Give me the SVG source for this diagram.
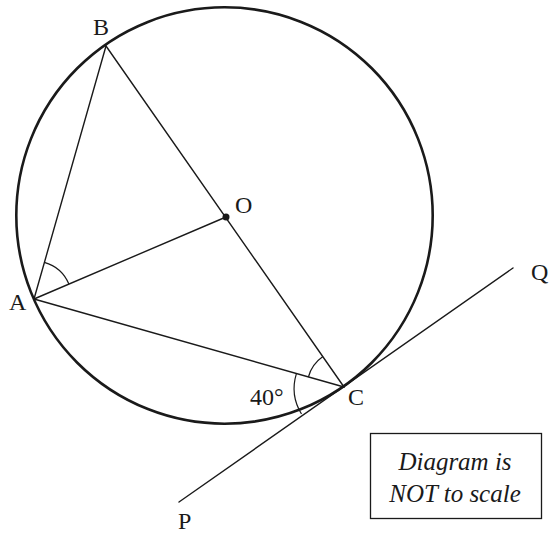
<svg xmlns="http://www.w3.org/2000/svg" width="553" height="535" viewBox="0 0 553 535">
  <style>
    .circ { fill: none; stroke: #1a1a1a; stroke-width: 2.6; }
    .ln { fill: none; stroke: #1a1a1a; stroke-width: 1.4; stroke-linecap: round; }
    .arc { fill: none; stroke: #1a1a1a; stroke-width: 1.2; }
    .lbl { font-family: "Liberation Serif", "Times New Roman", serif; font-size: 24px; fill: #1a1a1a; }
    .note { font-family: "Liberation Serif", "Times New Roman", serif; font-size: 25px; font-style: italic; fill: #1a1a1a; text-anchor: middle; }
  </style>
  <rect width="553" height="535" fill="#ffffff"/>
  <g id="circle">
    <circle class="circ" cx="224.5" cy="215.5" r="208.2"/>
  </g>
  <g id="connectors">
    <line class="ln" x1="34" y1="299" x2="106" y2="46"/>
    <line class="ln" x1="106" y1="46" x2="344" y2="387"/>
    <line class="ln" x1="34" y1="299" x2="226" y2="217"/>
    <line class="ln" x1="34" y1="299" x2="344" y2="387"/>
    <line class="ln" x1="179" y1="502" x2="513" y2="268"/>
    <path class="arc" d="M44.4,262.4 A38,38 0 0 1 68.9,284.1"/>
    <path class="arc" d="M308.4,377 A37,37 0 0 1 322.9,356.6"/>
    <path class="arc" d="M301.5,414 A49.5,49.5 0 0 1 296.4,373.6"/>
  </g>
  <g id="node-A"><text class="lbl" x="9" y="310">A</text></g>
  <g id="node-B"><text class="lbl" x="93" y="35">B</text></g>
  <g id="node-C"><text class="lbl" x="348" y="405">C</text></g>
  <g id="node-O">
    <circle cx="226" cy="217" r="3.5" fill="#1a1a1a"/>
    <text class="lbl" x="235" y="213">O</text>
  </g>
  <g id="node-P"><text class="lbl" x="178" y="529">P</text></g>
  <g id="node-Q"><text class="lbl" x="531" y="280">Q</text></g>
  <g id="angle-label"><text class="lbl" x="250" y="405">40°</text></g>
  <g id="note">
    <rect x="370.5" y="433.5" width="171" height="85" fill="none" stroke="#1a1a1a" stroke-width="1.3"/>
    <text class="note" x="455" y="470">Diagram is</text>
    <text class="note" x="455" y="502">NOT to scale</text>
  </g>
</svg>
